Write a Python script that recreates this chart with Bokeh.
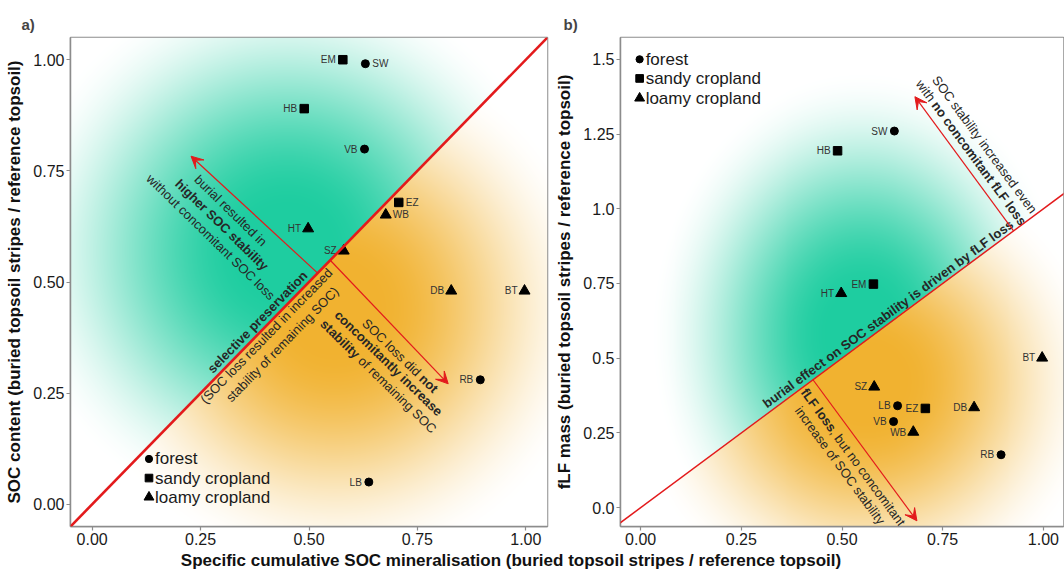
import numpy as np
from math import atan2, cos, sin, radians, degrees
from bokeh.plotting import figure
from bokeh.layouts import row, column
from bokeh.models import FixedTicker, Arrow, VeeHead, Slope
from bokeh.core.properties import value
from bokeh.embed import file_html
from bokeh.resources import INLINE

# ---------------- data ----------------
sites = ["SW", "HB", "EM", "HT", "BT", "SZ", "LB", "EZ", "DB", "VB", "WB", "RB"]
land_use = ["forest", "sandy cropland", "sandy cropland", "loamy cropland", "loamy cropland",
            "loamy cropland", "forest", "sandy cropland", "loamy cropland", "forest",
            "loamy cropland", "forest"]
soc_mineralisation = [0.630, 0.489, 0.578, 0.498, 0.997, 0.580, 0.638, 0.707, 0.828, 0.628, 0.677, 0.895]
soc_content = [0.991, 0.890, 1.000, 0.620, 0.480, 0.570, 0.050, 0.679, 0.480, 0.799, 0.651, 0.280]
flf_mass = [1.260, 1.194, 0.748, 0.717, 0.501, 0.404, 0.341, 0.332, 0.335, 0.288, 0.253, 0.177]
labels_right_a = ["SW", "EZ", "WB"]
legend_items = ["forest", "sandy cropland", "loamy cropland"]
x_ticks = [0.0, 0.25, 0.5, 0.75, 1.0]
x_tick_labels = ["0.00", "0.25", "0.50", "0.75", "1.00"]
ya_ticks = [0.0, 0.25, 0.5, 0.75, 1.0]
ya_tick_labels = ["0.00", "0.25", "0.50", "0.75", "1.00"]
yb_ticks = [0.0, 0.25, 0.5, 0.75, 1.0, 1.25, 1.5]
yb_tick_labels = ["0.0", "0.25", "0.5", "0.75", "1.0", "1.25", "1.5"]

x_title = "Specific cumulative SOC mineralisation (buried topsoil stripes / reference topsoil)"
ya_title = "SOC content (buried topsoil stripes / reference topsoil)"
yb_title = "fLF mass (buried topsoil stripes / reference topsoil)"

# ---------------- style ----------------
FONT = "Liberation Sans"
RED = "#e31a1c"
GREY = "#8c8c8c"
TXT = "#262626"
MARKERS = {"forest": ("circle", 8), "sandy cropland": ("square", 8.5), "loamy cropland": ("triangle", 11)}
GREEN = (30, 205, 160)
ORANGE = (241, 178, 48)

XR = (-0.05, 1.05)
YRA = (-0.05, 1.05)
YRB = (-0.063, 1.573)

HP = 550            # panel height
HT_ = 20            # x-title strip height
WA, WB_ = 552, 512
BL_A, BR_A = 70, 5
BL_B, BR_B = 64, 1
BT_, BB_ = 37, 24
FW_A = WA - BL_A - BR_A
FW_B = WB_ - BL_B - BR_B
FH = HP - BT_ - BB_

# Arial / Liberation Sans advance widths (1/1000 em)
W_REG = dict(zip("abcdefghijklmnopqrstuvwxyz",
                 [556, 556, 500, 556, 556, 278, 556, 556, 222, 222, 500, 222, 833, 556, 556, 556, 556, 333, 500, 278, 556, 500, 722, 500, 500, 500]))
W_REG.update(dict(zip("ABCDEFGHIJKLMNOPQRSTUVWXYZ",
                      [667, 667, 722, 722, 667, 611, 778, 722, 278, 500, 667, 556, 833, 722, 778, 667, 778, 722, 667, 611, 722, 667, 944, 667, 667, 611])))
W_REG.update({" ": 278, "(": 333, ")": 333, ",": 278, "/": 278, ".": 278})
W_BOLD = dict(zip("abcdefghijklmnopqrstuvwxyz",
                  [556, 611, 556, 611, 556, 333, 611, 611, 278, 278, 556, 278, 889, 611, 611, 611, 611, 389, 556, 333, 611, 556, 778, 556, 556, 500]))
W_BOLD.update(dict(zip("ABCDEFGHIJKLMNOPQRSTUVWXYZ",
                       [722, 722, 722, 722, 667, 611, 778, 722, 278, 556, 722, 611, 833, 722, 778, 667, 778, 722, 667, 611, 722, 667, 944, 667, 667, 611])))
W_BOLD.update({" ": 278, "(": 333, ")": 333, ",": 278, "/": 278, ".": 278})


def tw(s, bold):
    t = W_BOLD if bold else W_REG
    return sum(t.get(ch, 556) for ch in s) / 1000.0


def rich_text(p, segs, cx, cy, ang_deg, sx, sy, size=13, color=TXT):
    a = radians(ang_deg)
    widths = [tw(s, b) * size for s, b in segs]
    d = -sum(widths) / 2.0
    for (s, b), w in zip(segs, widths):
        lead = len(s) - len(s.lstrip(" "))
        dd = d + tw(" " * lead, b) * size
        txt = s.strip(" ")
        if txt:
            p.text(x=[cx + dd * cos(a) / sx], y=[cy + dd * sin(a) / sy], text=[txt], angle=a,
                   text_align="left", text_baseline="middle", text_font=value(FONT),
                   text_font_size=f"{size}px", text_font_style="bold" if b else "normal",
                   text_color=color)
        d += w


def smoothstep(e0, e1, x):
    t = np.clip((x - e0) / (e1 - e0), 0, 1)
    return t * t * (3 - 2 * t)


def background(xr, yr, fw, fh, gc, gax, gay, oc, oax, oay):
    nx, ny = int(fw), int(fh)
    xs = xr[0] + (np.arange(nx) + 0.5) / nx * (xr[1] - xr[0])
    ys = yr[0] + (np.arange(ny) + 0.5) / ny * (yr[1] - yr[0])
    X, Y = np.meshgrid(xs, ys)
    sx = fw / (xr[1] - xr[0])
    sy = fh / (yr[1] - yr[0])
    rg = np.hypot((X - gc[0]) * sx / gax, (Y - gc[1]) * sy / gay)
    ro = np.hypot((X - oc[0]) * sx / oax, (Y - oc[1]) * sy / oay)
    ig = 1 - smoothstep(0.15, 1.0, rg)
    io = 1 - smoothstep(0.15, 1.0, ro)
    above = Y > X
    inten = np.where(above, ig, io)
    img = np.zeros((ny, nx, 4), dtype=np.uint8)
    for k in range(3):
        c = np.where(above, GREEN[k], ORANGE[k])
        img[..., k] = np.round(255 - (255 - c) * inten).astype(np.uint8)
    img[..., 3] = 255
    return img.view(np.uint32).reshape(ny, nx)


def make_panel(width, bl, br, yr, title, title_offset, ytitle, yticks, ylabels):
    p = figure(width=width, height=HP, x_range=XR, y_range=yr, toolbar_location=None,
               output_backend="svg", min_border_left=bl, min_border_right=br,
               min_border_top=BT_, min_border_bottom=BB_, title=title)
    p.title.text_font = FONT
    p.title.text_font_size = "15px"
    p.title.text_font_style = "bold"
    p.title.align = "left"
    p.title.offset = title_offset
    p.title.standoff = 9
    p.grid.visible = False
    p.outline_line_color = GREY
    p.outline_line_width = 1.5
    p.background_fill_color = "white"
    for ax in (p.xaxis[0], p.yaxis[0]):
        ax.axis_line_color = GREY
        ax.axis_line_width = 1.5
        ax.major_tick_line_color = GREY
        ax.major_tick_line_width = 1.2
        ax.major_tick_in = 0
        ax.major_tick_out = 4
        ax.minor_tick_line_color = None
        ax.major_label_text_font = FONT
        ax.major_label_text_font_size = "16px"
        ax.major_label_text_color = "#1a1a1a"
        ax.major_label_standoff = 2
    p.xaxis.ticker = FixedTicker(ticks=x_ticks)
    p.xaxis.major_label_overrides = {t: l for t, l in zip(x_ticks, x_tick_labels)}
    p.yaxis.ticker = FixedTicker(ticks=yticks)
    p.yaxis.major_label_overrides = {t: l for t, l in zip(yticks, ylabels)}
    p.yaxis.axis_label = ytitle
    p.yaxis.axis_label_text_font = FONT
    p.yaxis.axis_label_text_font_size = "17px"
    p.yaxis.axis_label_text_font_style = "bold"
    p.yaxis.axis_label_text_color = "#111111"
    p.yaxis.axis_label_standoff = 6
    return p


def draw_points(p, ys, right_labels):
    for lu in legend_items:
        mk, sz = MARKERS[lu]
        idx = [i for i, l in enumerate(land_use) if l == lu]
        p.scatter(x=[soc_mineralisation[i] for i in idx], y=[ys[i] for i in idx],
                  marker=mk, size=sz, fill_color="black", line_color="black")
    left = [i for i, s in enumerate(sites) if s not in right_labels]
    right = [i for i, s in enumerate(sites) if s in right_labels]
    for grp, align, off in ((left, "right", -7), (right, "left", 7)):
        if grp:
            p.text(x=[soc_mineralisation[i] for i in grp], y=[ys[i] for i in grp],
                   text=[sites[i] for i in grp], text_align=align, text_baseline="middle",
                   x_offset=off, text_font=value(FONT), text_font_size="10px", text_color="#333333")


def draw_legend(p, x0, ys):
    for lu, yy in zip(legend_items, ys):
        mk, sz = MARKERS[lu]
        p.scatter(x=[x0], y=[yy], marker=mk, size=sz * 0.9, fill_color="black", line_color="black")
        p.text(x=[x0], y=[yy], text=[lu], x_offset=6, text_align="left", text_baseline="middle",
               text_font=value(FONT), text_font_size="17px", text_color="#1a1a1a")


# ================= panel a =================
pa = make_panel(WA, BL_A, BR_A, YRA, "a)", -49, ya_title, ya_ticks, ya_tick_labels)
sxa = FW_A / (XR[1] - XR[0])
sya = FH / (YRA[1] - YRA[0])
img_a = background(XR, YRA, FW_A, FH, (0.45, 0.57), 278, 278, (0.56, 0.44), 265, 265)
pa.image_rgba(image=[img_a], x=XR[0], y=YRA[0], dw=XR[1] - XR[0], dh=YRA[1] - YRA[0])
pa.add_layout(Slope(gradient=1, y_intercept=0, line_color=RED, line_width=2.6))
for xs_, ys_, xe_, ye_ in ((0.52, 0.52, 0.228, 0.783), (0.549, 0.549, 0.821, 0.271)):
    pa.add_layout(Arrow(end=VeeHead(size=12, fill_color=RED, line_color=RED),
                        x_start=xs_, y_start=ys_, x_end=xe_, y_end=ye_,
                        line_color=RED, line_width=1.2))
ang_a = degrees(atan2(sya, sxa))
rich_text(pa, [("burial resulted in", False)], 0.3195, 0.6608, ang_a - 90, sxa, sya)
rich_text(pa, [("higher SOC stability", True)], 0.2989, 0.6287, ang_a - 90, sxa, sya)
rich_text(pa, [("without concomitant SOC loss", False)], 0.2736, 0.6013, ang_a - 90, sxa, sya)
rich_text(pa, [("selective preservation", True)], 0.381, 0.410, ang_a, sxa, sya)
rich_text(pa, [("(SOC loss resulted in increased", False)], 0.4016, 0.3788, ang_a, sxa, sya)
rich_text(pa, [("stability of remaining SOC)", False)], 0.4384, 0.3597, ang_a, sxa, sya)
rich_text(pa, [("SOC loss did ", False), ("not", True)], 0.7103, 0.3341, ang_a - 90, sxa, sya)
rich_text(pa, [("concomitantly increase", True)], 0.6834, 0.3174, ang_a - 90, sxa, sya)
rich_text(pa, [("stability", True), (" of remaining SOC", False)], 0.6605, 0.2878, ang_a - 90, sxa, sya)
draw_points(pa, soc_content, labels_right_a)
draw_legend(pa, 0.131, [0.102, 0.059, 0.016])

# ================= panel b =================
pb = make_panel(WB_, BL_B, BR_B, YRB, "b)", -57, yb_title, yb_ticks, yb_tick_labels)
sxb = FW_B / (XR[1] - XR[0])
syb = FH / (YRB[1] - YRB[0])
img_b = background(XR, YRB, FW_B, FH, (0.55, 0.58), 215, 265, (0.56, 0.42), 240, 230)
pb.image_rgba(image=[img_b], x=XR[0], y=YRB[0], dw=XR[1] - XR[0], dh=YRB[1] - YRB[0])
pb.add_layout(Slope(gradient=1, y_intercept=0, line_color=RED, line_width=1.5))
for xs_, ys_, xe_, ye_ in ((0.428, 0.428, 0.686, -0.044), (0.926, 0.926, 0.681, 1.375)):
    pb.add_layout(Arrow(end=VeeHead(size=12, fill_color=RED, line_color=RED),
                        x_start=xs_, y_start=ys_, x_end=xe_, y_end=ye_,
                        line_color=RED, line_width=1.2))
ang_b = degrees(atan2(syb, sxb))
rich_text(pb, [("burial effect on SOC stability is driven by fLF loss", True)], 0.6115, 0.6485, ang_b, sxb, syb)
rich_text(pb, [("SOC stability increased even", False)], 0.853, 1.215, ang_b - 90, sxb, syb)
rich_text(pb, [("with ", False), ("no concomitant fLF loss", True)], 0.820, 1.188, ang_b - 90, sxb, syb)
rich_text(pb, [("fLF loss", True), (", but no concomitant", False)], 0.527, 0.169, ang_b - 90, sxb, syb)
rich_text(pb, [("increase of SOC stability", False)], 0.494, 0.1415, ang_b - 90, sxb, syb)
draw_points(pb, flf_mass, [])
draw_legend(pb, -0.0025, [1.50, 1.436, 1.37])

# ================= shared x title =================
pt = figure(width=WA + WB_, height=HT_, x_range=(0, WA + WB_), y_range=(0, HT_),
            toolbar_location=None, output_backend="svg", min_border=0,
            x_axis_type=None, y_axis_type=None)
pt.grid.visible = False
pt.outline_line_color = None
pt.text(x=[510.5], y=[HT_ / 2.0], text=[x_title], text_align="center", text_baseline="middle",
        text_font=value(FONT), text_font_size="17px", text_font_style="bold", text_color="#111111")

layout = column(row(pa, pb), pt)
open("out.html", "w").write(file_html(layout, INLINE))
